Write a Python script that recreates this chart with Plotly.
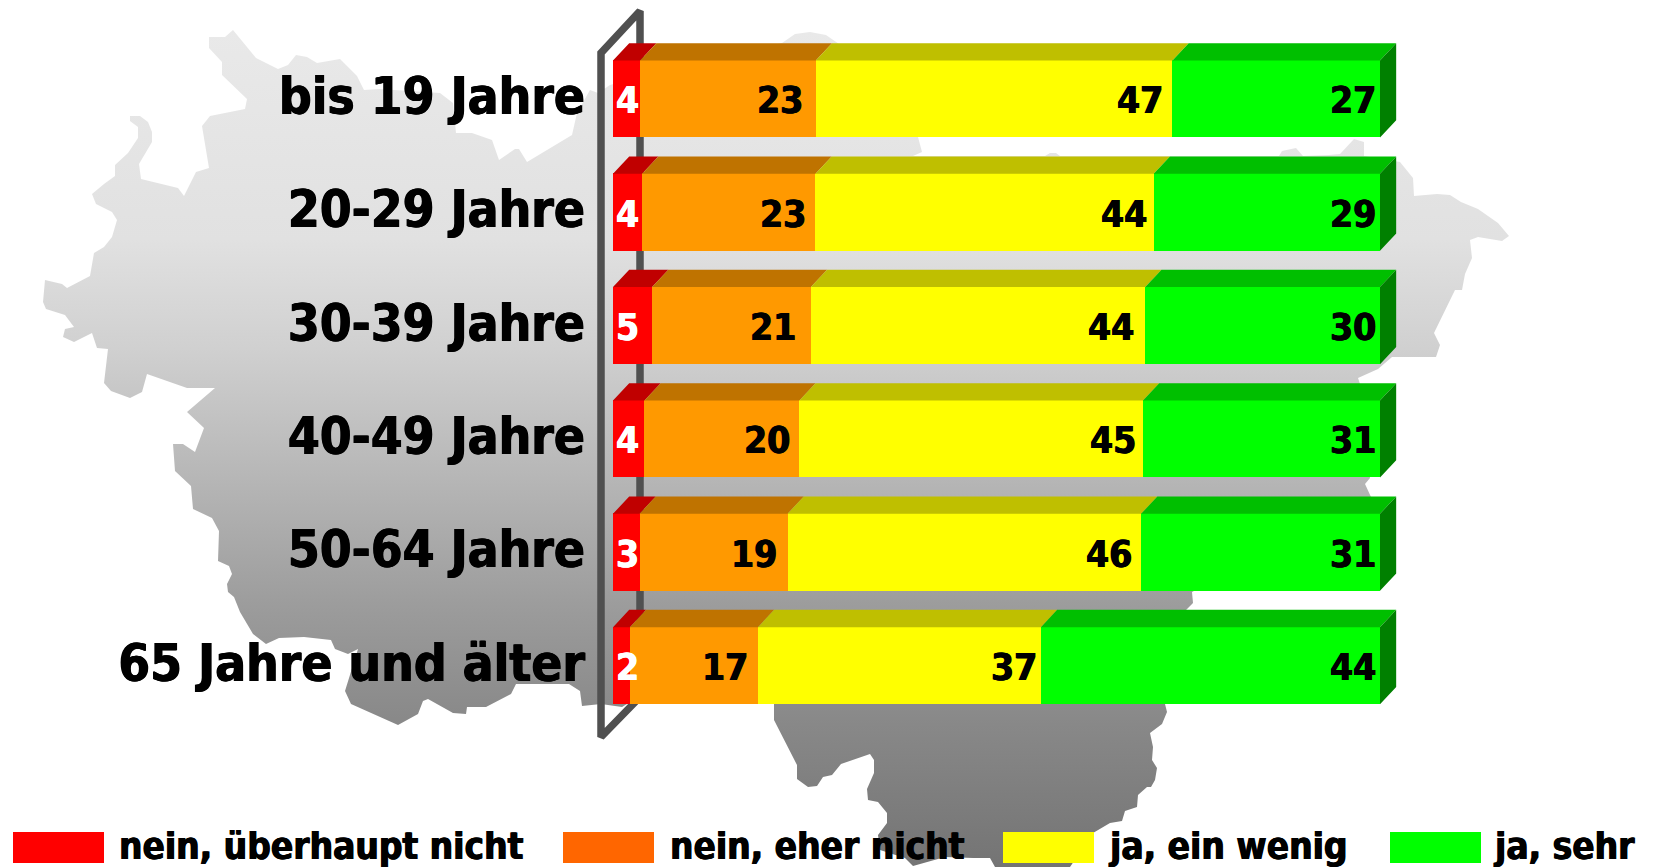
import plotly.graph_objects as go

# ---- data ----
age_groups = ["bis 19 Jahre", "20-29 Jahre", "30-39 Jahre", "40-49 Jahre", "50-64 Jahre", "65 Jahre und älter"]
series_names = ["nein, überhaupt nicht", "nein, eher nicht", "ja, ein wenig", "ja, sehr"]

nein_ueberhaupt = [3.54, 3.8, 5.1, 4.1, 3.46, 2.2]
nein_eher = [22.9, 22.6, 20.7, 20.2, 19.3, 16.7]
ja_wenig = [46.5, 44.1, 43.6, 44.8, 46.1, 36.9]
ja_sehr = [27.06, 29.5, 30.6, 30.9, 31.14, 44.2]

labels_nein_ueberhaupt = ["4", "4", "5", "4", "3", "2"]
labels_nein_eher = ["23", "23", "21", "20", "19", "17"]
labels_ja_wenig = ["47", "44", "44", "45", "46", "37"]
labels_ja_sehr = ["27", "29", "30", "31", "31", "44"]

# ---- styling ----
W, H = 1653, 867
FONT = "DejaVu Sans Condensed, DejaVu Sans, sans-serif"
HEAVY_BLACK = "0.6px 0 0 #000, -0.6px 0 0 #000"
HEAVY_WHITE = "0.6px 0 0 #fff, -0.6px 0 0 #fff"
front_colors = ["#FF0000", "#FF9900", "#FFFF00", "#00FF00"]
top_colors = ["#C00000", "#BF7300", "#BFBF00", "#00BF00"]
side_color = "#008000"
legend_colors = ["#FF0000", "#FF6600", "#FFFF00", "#00FF00"]

BAR_LEFT, PX_PER_UNIT = 613, 7.67
ROW_PITCH, ROW_TOP = 113.34, 42.3
DEPTH_X = 16.2 / PX_PER_UNIT
DEPTH_Y = 17.3 / ROW_PITCH
BAR_W = 0.68
X_MAX = 102.2

# label padding from the segment end, in pixels, per row
pad_nein_eher = [-11, -7, -13, -7, -9, -8]
pad_ja_wenig = [-7, -5, -9, -5, -7, -2]
pad_ja_sehr = [-2, -2, -2, -2, -2, -2]

# silhouette of the region behind the chart (page pixels, clockwise)
map_outline = [
    (209,37),(225,37),(233,30),(256,58),(278,69),(288,65),(296,55),(307,57),(317,63),(340,59),
    (357,76),(364,90),(379,89),(440,93),(453,103),(456,133),(472,133),(492,140),(499,160),
    (515,149),(519,149),(527,162),(572,135),(577,113),(590,90),(598,93),(610,85),(700,60),
    (782,43),(795,34),(810,32),(826,35),(839,44),(918,137),(922,152),(913,156),(1045,156),
    (1050,153),(1056,153),(1060,156),(1279,156),(1282,151),(1296,148),(1303,156),(1329,155),
    (1340,154),(1354,139),(1364,142),(1364,156),(1400,162),(1413,178),(1414,196),(1437,194),
    (1450,195),(1461,202),(1478,209),(1498,223),(1509,236),(1502,241),(1478,237),(1470,240),
    (1472,258),(1465,274),(1462,290),(1455,290),(1434,333),(1440,345),(1436,357),(1392,357),
    (1378,369),(1358,378),(1360,384),(1370,478),(1365,484),(1371,497),(1192,592),(1193,603),
    (1186,610),(1165,704),(1167,712),(1162,724),(1150,733),(1153,747),(1152,760),(1157,768),
    (1155,780),(1151,787),(1147,787),(1138,795),(1137,807),(1125,811),(1122,821),(1110,823),
    (1093,833),(1070,867),(995,867),(990,858),(973,858),(945,857),(928,862),(913,866),(905,858),
    (880,850),(878,835),(887,823),(887,813),(878,802),(868,800),(867,789),(874,773),(874,760),
    (870,754),(841,764),(832,775),(823,777),(817,786),(808,787),(797,779),(797,765),(774,720),
    (774,704),(627,704),(622,707),(601,704),(582,706),(580,691),(569,684),(516,684),(511,694),
    (486,707),(467,707),(466,714),(453,713),(428,699),(423,701),(418,714),(398,725),(351,704),
    (345,691),(358,649),(348,654),(335,649),(331,640),(304,637),(279,638),(266,644),(253,634),
    (240,612),(234,597),(228,592),(227,584),(232,574),(229,566),(218,561),(219,531),(212,518),
    (193,509),(191,486),(175,471),(173,444),(183,444),(195,452),(204,428),(187,412),(215,388),
    (187,388),(147,374),(142,392),(130,398),(111,391),(104,383),(108,349),(97,348),(92,333),
    (74,342),(63,337),(65,329),(74,327),(65,315),(46,309),(43,302),(45,280),(62,284),(67,288),
    (90,276),(94,253),(104,247),(112,237),(117,220),(112,212),(96,204),(92,194),(104,184),
    (115,176),(115,165),(128,153),(138,138),(138,127),(130,121),(130,116),(140,116),(148,122),
    (152,132),(152,142),(139,164),(141,179),(178,188),(184,196),(196,172),(209,168),(202,126),
    (210,116),(245,109),(247,99),(222,75),(222,62),(209,48),
]
map_x = [p[0] for p in map_outline] + [map_outline[0][0]]
map_y = [p[1] for p in map_outline] + [map_outline[0][1]]
frame_x = [640, 640, 601, 601, 640]
frame_y = [697, 11, 53, 737, 697]

rows = list(range(len(age_groups)))
series_values = [nein_ueberhaupt, nein_eher, ja_wenig, ja_sehr]
series_labels = [labels_nein_ueberhaupt, labels_nein_eher, labels_ja_wenig, labels_ja_sehr]
series_pads = [None, pad_nein_eher, pad_ja_wenig, pad_ja_sehr]

fig = go.Figure()

# page-sized background axes: silhouette + back wall
fig.add_trace(go.Scatter(
    x=map_x, y=map_y, mode="lines", line=dict(width=0), fill="toself",
    fillgradient=dict(type="vertical", start=30, stop=867, colorscale=[
        [0.0, "#E9E9E9"], [0.25, "#E1E1E1"], [0.38, "#D0D0D0"], [0.56, "#B2B2B2"],
        [0.70, "#9A9A9A"], [0.83, "#888888"], [1.0, "#747474"]]),
    hoverinfo="skip", showlegend=False))
fig.add_trace(go.Scatter(
    x=frame_x, y=frame_y, mode="lines",
    line=dict(color="#505050", width=7.5), hoverinfo="skip", showlegend=False))

# front faces, drawn from the data
for name, vals, col in zip(series_names, series_values, front_colors):
    fig.add_trace(go.Bar(
        y=rows, x=vals, name=name, orientation="h", width=BAR_W,
        marker=dict(color=col, line=dict(width=0)),
        xaxis="x2", yaxis="y2", showlegend=False))

# top faces and end side faces derived from the same data
cum = [0.0] * len(rows)
annotations = []
for si, (vals, labs, pads) in enumerate(zip(series_values, series_labels, series_pads)):
    px, py = [], []
    for r in rows:
        a, b = cum[r], cum[r] + vals[r]
        t = r - BAR_W / 2
        px += [a, b, b + DEPTH_X, a + DEPTH_X, a, None]
        py += [t, t, t - DEPTH_Y, t - DEPTH_Y, t, None]
        if si == 0:
            annotations.append(dict(x=a, y=r, xref="x2", yref="y2", text=labs[r], showarrow=False,
                                    xanchor="left", xshift=1, yshift=-2,
                                    font=dict(family=FONT, size=37, color="white", weight=700,
                                              shadow=HEAVY_WHITE)))
        else:
            annotations.append(dict(x=b, y=r, xref="x2", yref="y2", text=labs[r], showarrow=False,
                                    xanchor="right", xshift=pads[r], yshift=-2,
                                    font=dict(family=FONT, size=37, color="black", weight=700,
                                              shadow=HEAVY_BLACK)))
        cum[r] = b
    fig.add_trace(go.Scatter(x=px, y=py, mode="lines", line=dict(width=0), fill="toself",
                             fillcolor=top_colors[si], xaxis="x2", yaxis="y2",
                             hoverinfo="skip", showlegend=False))
sx, sy = [], []
for r in rows:
    t, bt, e = r - BAR_W / 2, r + BAR_W / 2, cum[r]
    sx += [e, e + DEPTH_X, e + DEPTH_X, e, e, None]
    sy += [t, t - DEPTH_Y, bt - DEPTH_Y, bt, t, None]
fig.add_trace(go.Scatter(x=sx, y=sy, mode="lines", line=dict(width=0), fill="toself",
                         fillcolor=side_color, xaxis="x2", yaxis="y2",
                         hoverinfo="skip", showlegend=False))

# legend
legend_swatch_x = [13, 563, 1003, 1390]
legend_text_x = [119, 670, 1108, 1493]
shapes = []
for name, col, sxp, txp in zip(series_names, legend_colors, legend_swatch_x, legend_text_x):
    shapes.append(dict(type="rect", xref="x", yref="y", x0=sxp, x1=sxp + 91, y0=832, y1=863,
                       fillcolor=col, line=dict(width=0), layer="above"))
    annotations.append(dict(x=txp, y=846, xref="x", yref="y", text=name, showarrow=False,
                            xanchor="left", xshift=-2,
                            font=dict(family=FONT, size=36.7, color="black", weight=700,
                                      shadow=HEAVY_BLACK)))

fig.update_layout(
    width=W, height=H, margin=dict(l=0, r=0, t=0, b=0, pad=0, autoexpand=False),
    plot_bgcolor="rgba(0,0,0,0)", paper_bgcolor="white", barmode="stack", bargap=0,
    shapes=shapes, annotations=annotations, hovermode=False, showlegend=False,
    xaxis=dict(domain=[0, 1], range=[0, W], visible=False, fixedrange=True),
    yaxis=dict(domain=[0, 1], range=[H, 0], visible=False, fixedrange=True),
    xaxis2=dict(domain=[BAR_LEFT / W, (BAR_LEFT + X_MAX * PX_PER_UNIT) / W], range=[0, X_MAX],
                anchor="y2", visible=False, fixedrange=True),
    yaxis2=dict(domain=[(H - (ROW_TOP + 6 * ROW_PITCH)) / H, (H - ROW_TOP) / H], range=[5.5, -0.5],
                anchor="x2", side="left", fixedrange=True,
                tickmode="array", tickvals=rows, ticktext=age_groups,
                showgrid=False, zeroline=False, showline=False, ticks="",
                ticklabelstandoff=27, ticklabelshift=3,
                tickfont=dict(family=FONT, size=51, color="black", weight=700,
                              shadow=HEAVY_BLACK)),
)

fig.write_html("out.html", config={"displayModeBar": False},
               post_script="document.body.style.margin='0';document.body.style.overflow='hidden';")
